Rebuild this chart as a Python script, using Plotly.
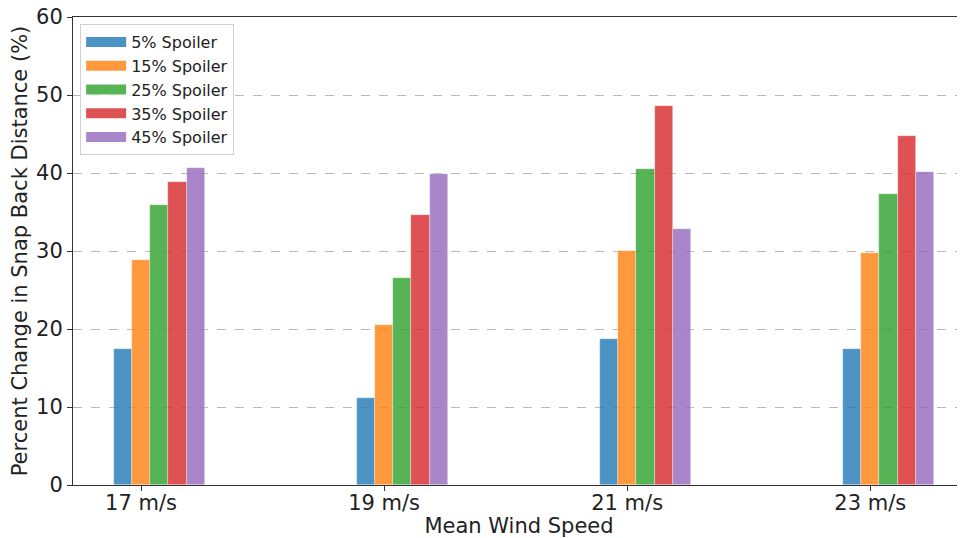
import plotly.graph_objects as go

categories = ["17 m/s", "19 m/s", "21 m/s", "23 m/s"]
series_names = ["5% Spoiler", "15% Spoiler", "25% Spoiler", "35% Spoiler", "45% Spoiler"]
spoiler_5 = [17.4, 11.1, 18.7, 17.4]
spoiler_15 = [28.8, 20.5, 30.0, 29.7]
spoiler_25 = [35.9, 26.5, 40.5, 37.3]
spoiler_35 = [38.8, 34.6, 48.6, 44.8]
spoiler_45 = [40.6, 39.9, 32.8, 40.1]
series_values = [spoiler_5, spoiler_15, spoiler_25, spoiler_35, spoiler_45]
colors = ["rgba(31,119,180,0.8)", "rgba(255,127,14,0.8)", "rgba(44,160,44,0.8)",
          "rgba(214,39,40,0.8)", "rgba(148,103,189,0.8)"]

bar_w = 0.075
base_x = list(range(len(categories)))

fig = go.Figure()
for k, (name, vals) in enumerate(zip(series_names, series_values)):
    xs = [b + (k - 1) * bar_w for b in base_x]
    fig.add_trace(go.Bar(
        x=xs, y=vals, width=bar_w, name=name, showlegend=False,
        marker=dict(color=colors[k], line=dict(color="rgba(255,255,255,0.6)", width=0.6)),
    ))
# legend entries drawn as wide patches (matplotlib style)
for k, name in enumerate(series_names):
    fig.add_trace(go.Scatter(
        x=[None], y=[None], mode="lines", name=name,
        line=dict(color=colors[k], width=10),
    ))

font_family = "DejaVu Sans"
fig.update_layout(
    width=957, height=530,
    margin=dict(l=65, r=0, t=9, b=53),
    plot_bgcolor="white", paper_bgcolor="white",
    barmode="overlay",
    bargap=0,
    font=dict(family=font_family, color="#222222"),
    legend=dict(
        x=0.008, y=0.985, xanchor="left", yanchor="top",
        bgcolor="rgba(255,255,255,0.8)", bordercolor="#d0d0d0", borderwidth=1,
        font=dict(size=16, family=font_family),
        tracegroupgap=0, itemwidth=40,
    ),
    showlegend=True,
)
fig.update_xaxes(
    range=[-0.28, 3.39],
    tickmode="array", tickvals=base_x, ticktext=categories,
    tickfont=dict(size=21, family=font_family, color="#222222"),
    ticks="outside", ticklen=5, tickcolor="#333333",
    ticklabelstandoff=-6, automargin=False,
    showline=True, linecolor="#333333", linewidth=1, mirror=True,
    showgrid=False, zeroline=False,
    title=dict(text="Mean Wind Speed", font=dict(size=21, family=font_family), standoff=2),
)
fig.update_yaxes(
    range=[0, 60.001],
    tickvals=[0, 10, 20, 30, 40, 50, 60],
    tickfont=dict(size=21, family=font_family, color="#222222"),
    ticks="outside", ticklen=5, tickcolor="#333333",
    ticklabeloverflow="allow", automargin=False,
    showline=True, linecolor="#333333", linewidth=1,
    showgrid=True, gridcolor="#b8b8b8", griddash="dash", gridwidth=0.7,
    zeroline=False,
    title=dict(text="Percent Change in Snap Back Distance (%)", font=dict(size=21, family=font_family), standoff=2),
)

fig.write_html("out.html")
